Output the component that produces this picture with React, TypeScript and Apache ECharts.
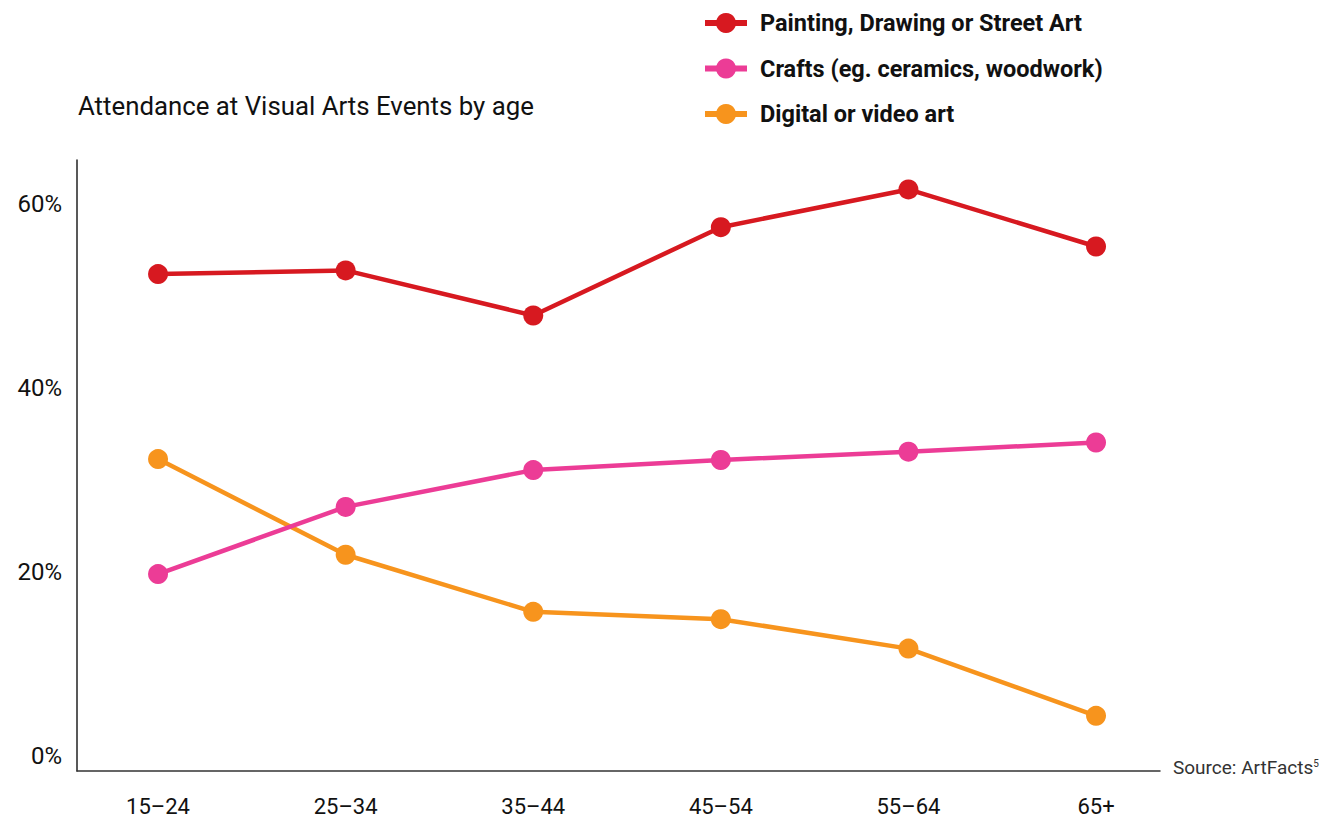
import React, { useEffect, useRef } from "react";
import * as echarts from "echarts";

const ageGroups = ["15–24", "25–34", "35–44", "45–54", "55–64", "65+"];
const painting = [52.4, 52.8, 47.9, 57.5, 61.6, 55.4];
const crafts = [19.8, 27.1, 31.1, 32.2, 33.1, 34.1];
const digital = [32.3, 21.9, 15.7, 14.9, 11.7, 4.4];
const yTicks = [0, 20, 40, 60];

const seriesNames = [
  "Painting, Drawing or Street Art",
  "Crafts (eg. ceramics, woodwork)",
  "Digital or video art",
];
const colors = ["#D71920", "#EC3C96", "#F7941D"];

const FONT = "Roboto, 'Noto Sans', sans-serif";

export default function App() {
  const ref = useRef<HTMLDivElement>(null);

  useEffect(() => {
    if (!ref.current) return;
    const chart = echarts.init(ref.current, null, { renderer: "svg" });
    const all = [painting, crafts, digital];
    const option: any = {
      animation: false,
      backgroundColor: "#ffffff",
      textStyle: { fontFamily: FONT },
      title: {
        text: "Attendance at Visual Arts Events by age",
        left: 73,
        top: 88,
        textStyle: {
          fontFamily: FONT,
          fontSize: 25.8,
          fontWeight: "normal",
          color: "#111111",
        },
      },
      legend: {
        data: seriesNames,
        orient: "vertical",
        left: 697,
        top: 6,
        itemWidth: 42,
        itemHeight: 25,
        itemGap: 21.5,
        lineStyle: { width: 6 },
        textStyle: {
          fontFamily: FONT,
          fontSize: 23.5,
          fontWeight: "bold",
          color: "#111111",
          padding: [0, 0, 0, 8],
        },
      },
      grid: {
        left: 77,
        right: 161,
        top: 160,
        bottom: 47,
        containLabel: false,
        outerBoundsMode: "none",
      },
      xAxis: {
        type: "value",
        min: -0.432,
        max: 5.341,
        axisLine: {
          show: true,
          onZero: false,
          lineStyle: { color: "#333333", width: 1.5 },
        },
        axisTick: { show: false },
        splitLine: { show: false },
        axisLabel: {
          customValues: ageGroups.map((_, i) => i),
          formatter: (v: number) => ageGroups[Math.round(v)] ?? "",
          margin: 24,
          fontFamily: FONT,
          fontSize: 22,
          color: "#111111",
        },
      },
      yAxis: {
        type: "value",
        min: -1.6,
        max: 64.8,
        axisLine: {
          show: true,
          onZero: false,
          lineStyle: { color: "#222222", width: 1.5 },
        },
        axisTick: { show: false },
        splitLine: { show: false },
        axisLabel: {
          customValues: yTicks,
          formatter: (v: number) => `${v}%`,
          margin: 15,
          fontFamily: FONT,
          fontSize: 24,
          color: "#111111",
        },
      },
      series: all.map((vals, si) => ({
        name: seriesNames[si],
        type: "line",
        data: vals.map((v, i) => [i, v]),
        symbol: "circle",
        symbolSize: 20,
        color: colors[si],
        lineStyle: { width: 4.5, color: colors[si] },
        itemStyle: { color: colors[si] },
        z: 3 - si,
      })),
      graphic: [
        {
          type: "text",
          left: 1173,
          top: 758,
          style: {
            text: "Source: ArtFacts{sup|5}",
            fontFamily: FONT,
            fontSize: 19,
            fill: "#333333",
            rich: {
              sup: {
                fontFamily: FONT,
                fontSize: 10,
                fill: "#333333",
                verticalAlign: "top",
              },
            },
          },
        },
      ],
    };
    chart.setOption(option);
    return () => chart.dispose();
  }, []);

  return (
    <div
      ref={ref}
      style={{ position: "absolute", left: 0, top: 0, width: 1321, height: 818 }}
    />
  );
}
